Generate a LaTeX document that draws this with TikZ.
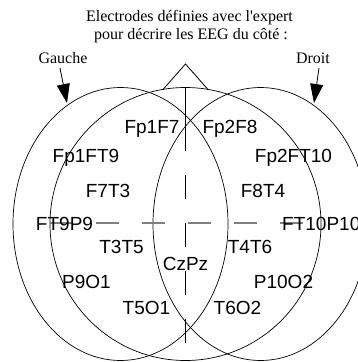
\documentclass[tikz,border=0pt]{standalone}
\usepackage{fontspec}
\setmainfont{Liberation Serif}
\newfontfamily\lblfont{Liberation Sans}
\usetikzlibrary{arrows.meta}
\begin{document}
\begin{tikzpicture}[x=1pt,y=-1pt,
  ring/.style={draw=black,line width=0.7pt},
  lbl/.style={anchor=base,inner sep=0pt,font=\lblfont\fontsize{19}{22}\selectfont},
  ttl/.style={anchor=base,inner sep=0pt,font=\fontsize{16}{19}\selectfont},
  pointer/.style={line width=0.8pt,-{Triangle[length=19pt,width=13pt]}},
  hdash/.style={draw=black!50,line width=1.1pt,dash pattern=on 22.5pt off 23.5pt},
  vdash/.style={draw=black,line width=0.8pt,dash pattern=on 23.5pt off 24.5pt},
  stem/.style={draw=black,line width=0.8pt}]
\useasboundingbox (0,0) rectangle (358,362);
\clip (0,0) rectangle (358,362);
\fill[white] (0,0) rectangle (358,362);
% ellipses
\draw[ring] (120.5,224) ellipse [x radius=107.5,y radius=136.5];
\draw[ring] (185.5,224) ellipse [x radius=135.5,y radius=136.5];
\draw[ring] (260.5,224) ellipse [x radius=107.5,y radius=136.5];
% title and side labels
\node[ttl] (t1) at (189.5,21) {Electrodes définies avec l\textquotesingle expert};
\node[ttl] (t2) at (191,39) {pour décrire les EEG du côté :};
\node[ttl] (gauche) at (63,63) {Gauche};
\node[ttl] (droit) at (313,63) {Droit};
\coordinate (gs) at (60,68);
\coordinate (gt) at (67,103);
\coordinate (ds) at (319,68);
\coordinate (dt) at (314,103);
\draw[pointer] (gs) -- (gt);
\draw[pointer] (ds) -- (dt);
% tree symbol at top
\coordinate (apex) at (185.5,64);
\coordinate (bl) at (163,89.5);
\coordinate (br) at (208,89.5);
\coordinate (st) at (185.5,87.5);
\coordinate (sb) at (185.5,127);
\draw[stem] (bl) -- (apex) -- (br);
\draw[stem] (st) -- (sb);
% dashed axes
\coordinate (vb) at (185.5,342.5);
\draw[vdash] (sb) -- (vb);
\coordinate (hl) at (50,223);
\coordinate (hr) at (321,223);
\draw[hdash] (hl) -- (hr);
% electrode labels
\node[lbl] (fp1f7) at (152,133) {Fp1F7};
\node[lbl] (fp2f8) at (230,133) {Fp2F8};
\node[lbl] (fp1ft9) at (86,162) {Fp1FT9};
\node[lbl] (fp2ft10) at (293.5,162) {Fp2FT10};
\node[lbl] (f7t3) at (108,197) {F7T3};
\node[lbl] (f8t4) at (263,197) {F8T4};
\node[lbl] (ft9p9) at (64.5,230) {FT9P9};
\node[lbl,anchor=base west] (ft10p10) at (282,230) {FT10P10};
\node[lbl] (t3t5) at (121.5,253) {T3T5};
\node[lbl] (t4t6) at (250,253) {T4T6};
\node[lbl] (czpz) at (185.5,270) {CzPz};
\node[lbl] (p9o1) at (86.5,288) {P9O1};
\node[lbl] (p10o2) at (283.5,288) {P10O2};
\node[lbl] (t5o1) at (146.5,314) {T5O1};
\node[lbl] (t6o2) at (237.5,314) {T6O2};
\end{tikzpicture}
\end{document}
